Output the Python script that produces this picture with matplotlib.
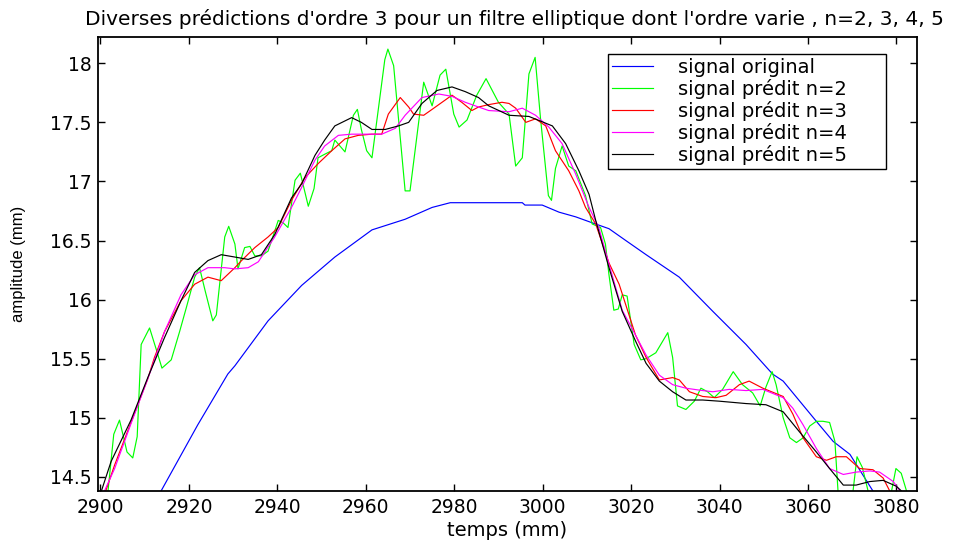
import matplotlib
matplotlib.use("Agg")
import matplotlib.pyplot as plt

# ---------------- data ----------------
blue_x = [2913.7, 2922, 2928.8, 2930.4, 2937.9, 2945.5, 2953, 2961.4, 2968.9, 2975, 2979.1,
          2995.4, 2996, 2999.9, 3003.7, 3007.5, 3011.2, 3015, 3018.8, 3023.4, 3030.9, 3038.5,
          3046, 3052, 3054.4, 3061.9, 3065.7, 3069.5, 3074.7]
blue_y = [14.38, 14.94, 15.37, 15.44, 15.82, 16.12, 16.36, 16.59, 16.68, 16.78, 16.82,
          16.82, 16.80, 16.80, 16.74, 16.70, 16.65, 16.60, 16.50, 16.38, 16.19, 15.90,
          15.62, 15.37, 15.31, 14.97, 14.80, 14.69, 14.38]

green_x = [2901.7, 2903, 2904.3, 2906, 2907.3, 2908.3, 2909.2, 2911.1, 2912.6, 2913.9, 2916,
           2917.9, 2919.4, 2921.3, 2922.4, 2923.7, 2925.4, 2926.2, 2928.1, 2929, 2930.4,
           2931.1, 2932.6, 2933.8, 2934.9, 2936.4, 2937.9, 2940.2, 2941.3, 2942.4, 2944,
           2945.2, 2947, 2948.3, 2949.2, 2950.7, 2952.3, 2953, 2955.3, 2956.4, 2957.2,
           2958.1, 2959, 2960.2, 2961.4, 2964.3, 2965, 2966.3, 2968.9, 2970, 2973.1, 2975,
           2976.8, 2978.1, 2979.9, 2981.1, 2982.9, 2985.1, 2987.2, 2990, 2992.4, 2993.9,
           2995.4, 2996.9, 2998.3, 2999.5, 3001.3, 3002, 3002.9, 3004.4, 3005.9, 3007.5,
           3009.7, 3011.2, 3013.1, 3014.2, 3015, 3016.1, 3017.1, 3018, 3019.1, 3020.7,
           3022.2, 3023.4, 3025.6, 3028.3, 3029.4, 3030.5, 3032.4, 3034.3, 3035.8, 3037.3,
           3038.8, 3040.7, 3043.1, 3045.2, 3047.5, 3049.2, 3050.5, 3051.9, 3052.8, 3054.4,
           3055.9, 3057.4, 3058.9, 3060.4, 3061.9, 3063.4, 3064.9, 3066.1, 3066.8, 3068.5,
           3070.2, 3071.1, 3072.3, 3073.6, 3075.5, 3078.5, 3079.9, 3081.1, 3082.3]
green_y = [14.38, 14.86, 14.98, 14.71, 14.66, 14.84, 15.62, 15.76, 15.58, 15.42, 15.49,
           15.73, 15.93, 16.19, 16.27, 16.07, 15.82, 15.87, 16.53, 16.62, 16.47,
           16.26, 16.44, 16.45, 16.37, 16.37, 16.41, 16.67, 16.65, 16.61, 17.01,
           17.07, 16.79, 16.94, 17.20, 17.23, 17.26, 17.35, 17.25, 17.43, 17.56,
           17.61, 17.44, 17.26, 17.20, 18.03, 18.12, 17.98, 16.92, 16.92, 17.84, 17.64,
           17.90, 17.95, 17.57, 17.46, 17.52, 17.73, 17.87, 17.67, 17.57, 17.13,
           17.20, 17.91, 18.05, 17.54, 16.88, 16.84, 17.11, 17.30, 17.13, 17.09,
           16.88, 16.64, 16.61, 16.47, 16.21, 15.91, 15.92, 16.04, 16.03, 15.62,
           15.49, 15.50, 15.55, 15.72, 15.51, 15.10, 15.07, 15.14, 15.25, 15.22,
           15.17, 15.24, 15.39, 15.28, 15.21, 15.10, 15.26, 15.39, 15.28, 15.00,
           14.83, 14.79, 14.83, 14.93, 14.97, 14.97, 14.96, 14.80, 14.38, 14.20,
           14.38, 14.67, 14.58, 14.38, 14.20, 14.30, 14.57, 14.53, 14.38]

red_x = [2901.0, 2903.2, 2906.9, 2910.7, 2912.2, 2914.5, 2918.2, 2921.3, 2924.3, 2927.3,
         2930.4, 2931.9, 2934.9, 2937.9, 2940.2, 2943.2, 2946.2, 2949.2, 2952.3, 2955.3,
         2958.3, 2961.4, 2963.6, 2965.1, 2967.8, 2969.7, 2970.8, 2973.1, 2975, 2976.5,
         2979.5, 2981.7, 2984, 2985.5, 2987.8, 2990.8, 2992.4, 2993.9, 2996.2, 2998.4,
         3000.7, 3002.9, 3005.9, 3008.2, 3009.7, 3012, 3015, 3017.3, 3021, 3023.4,
         3026.4, 3029.4, 3030.9, 3033.2, 3036.2, 3039.2, 3041.5, 3044.5, 3046.7, 3049.8,
         3054.4, 3056.6, 3058.9, 3061.9, 3064.2, 3066.4, 3068.7, 3071.7, 3074.7, 3077, 3078.5]
red_y = [14.36, 14.60, 14.96, 15.33, 15.51, 15.73, 15.99, 16.13, 16.19, 16.16,
         16.27, 16.33, 16.44, 16.53, 16.61, 16.84, 17.03, 17.15, 17.26, 17.36,
         17.39, 17.40, 17.40, 17.57, 17.71, 17.63, 17.57, 17.56, 17.61, 17.65,
         17.73, 17.67, 17.60, 17.63, 17.65, 17.67, 17.66, 17.62, 17.50, 17.53,
         17.47, 17.26, 17.09, 16.92, 16.78, 16.64, 16.31, 16.13, 15.70, 15.51,
         15.32, 15.34, 15.32, 15.22, 15.18, 15.17, 15.19, 15.28, 15.31, 15.25,
         15.18, 15.03, 14.83, 14.67, 14.64, 14.67, 14.67, 14.57, 14.56, 14.49, 14.38]

magenta_x = [2900.3, 2903.2, 2906.9, 2910.7, 2914.5, 2918.2, 2921.3, 2924.3, 2928.1, 2930.4,
             2933.4, 2935.7, 2939.4, 2943.2, 2945.5, 2948.5, 2950.7, 2953.8, 2956.8, 2959.8,
             2961.4, 2963.6, 2966.7, 2968.9, 2972.7, 2976.5, 2979.5, 2982.5, 2985.5, 2987.8,
             2992.4, 2995.4, 2998.4, 3001.4, 3004.4, 3007.5, 3010.5, 3012.7, 3015, 3018,
             3021, 3023.4, 3026.4, 3029.4, 3032.4, 3036.2, 3038.5, 3042.2, 3046, 3049.8,
             3054.4, 3056.6, 3058.9, 3061.9, 3064.9, 3068, 3070.9, 3074, 3076.2, 3079.3, 3080.8]
magenta_y = [14.33, 14.57, 14.95, 15.33, 15.73, 16.04, 16.21, 16.27, 16.27, 16.26,
             16.27, 16.32, 16.53, 16.78, 16.95, 17.18, 17.30, 17.39, 17.40, 17.40,
             17.40, 17.40, 17.45, 17.56, 17.71, 17.74, 17.72, 17.67, 17.63, 17.60,
             17.59, 17.62, 17.56, 17.46, 17.32, 17.06, 16.78, 16.61, 16.30, 15.91,
             15.70, 15.53, 15.36, 15.28, 15.25, 15.23, 15.22, 15.24, 15.23, 15.24,
             15.17, 15.08, 14.94, 14.74, 14.57, 14.52, 14.54, 14.55, 14.54, 14.46, 14.38]

black_x = [2899.5, 2902.4, 2906.9, 2910.7, 2914.5, 2918.2, 2921.3, 2924.3, 2927.3, 2930.4,
           2933.4, 2936.4, 2939.4, 2943.2, 2945.5, 2948.5, 2950.7, 2953, 2956.8, 2959,
           2961.4, 2964.4, 2967.4, 2969.7, 2972.7, 2976.1, 2979.5, 2982.5, 2985.5, 2987.8,
           2992.4, 2996.9, 3002.2, 3005.2, 3008.2, 3010.5, 3012, 3015, 3018, 3021,
           3023.4, 3026.4, 3029.4, 3032.4, 3036.2, 3040, 3046, 3050.5, 3054.4, 3058.1,
           3061.9, 3064.9, 3068, 3070.9, 3074, 3077, 3080, 3082]
black_y = [14.30, 14.63, 14.98, 15.34, 15.68, 15.99, 16.23, 16.33, 16.38, 16.36,
           16.34, 16.38, 16.55, 16.86, 16.98, 17.22, 17.35, 17.47, 17.54, 17.50,
           17.44, 17.44, 17.47, 17.50, 17.66, 17.77, 17.80, 17.76, 17.71, 17.64,
           17.56, 17.55, 17.47, 17.32, 17.09, 16.89, 16.67, 16.27, 15.90, 15.65,
           15.46, 15.31, 15.22, 15.15, 15.15, 15.14, 15.12, 15.11, 15.05, 14.88,
           14.71, 14.57, 14.43, 14.43, 14.46, 14.47, 14.42, 14.35]

labels = ["signal original", "signal prédit n=2", "signal prédit n=3",
          "signal prédit n=4", "signal prédit n=5"]
x_ticks = [2900, 2920, 2940, 2960, 2980, 3000, 3020, 3040, 3060, 3080]
y_ticks = [14.5, 15, 15.5, 16, 16.5, 17, 17.5, 18]
y_ticklabels = ["14.5", "15", "15.5", "16", "16.5", "17", "17.5", "18"]
title = "Diverses prédictions d'ordre 3 pour un filtre elliptique dont l'ordre varie , n=2, 3, 4, 5"

# ---------------- figure ----------------
plt.rcParams['font.family'] = ['DejaVu Sans']
fig = plt.figure(figsize=(9.56, 5.42), dpi=100)
ax = fig.add_axes([0.1028, 0.0941, 0.8561, 0.8371])

series = [(blue_x, blue_y, '#0000ff'), (green_x, green_y, '#00ff00'),
          (red_x, red_y, '#ff0000'), (magenta_x, magenta_y, '#ff00ff'),
          (black_x, black_y, '#000000')]
for (xs, ys, c), lab in zip(series, labels):
    ax.plot(xs, ys, color=c, lw=0.85, label=lab)

ax.set_xlim(2899.5, 3084.6)
ax.set_ylim(14.38, 18.22)
ax.set_xticks(x_ticks)
ax.set_xticklabels([str(v) for v in x_ticks])
ax.set_yticks(y_ticks)
ax.set_yticklabels(y_ticklabels)
ax.tick_params(direction='in', length=5, width=1, top=True, right=True,
               labelsize=13.5, pad=5)
for s in ax.spines.values():
    s.set_linewidth(1.3)

ax.set_title(title, fontsize=14.5, pad=9, x=0.509)
ax.set_xlabel("temps (mm)", fontsize=14, labelpad=3)
ax.set_ylabel("amplitude (mm)", fontsize=12, family=['Liberation Sans', 'DejaVu Sans'],
              labelpad=17)

leg = ax.legend(loc='upper left', bbox_to_anchor=(0.623, 0.715, 0.3395, 0.248),
                mode='expand', borderaxespad=0,
                fontsize=14, fancybox=False, framealpha=1, edgecolor='black',
                handlelength=2.1, handletextpad=1.3, labelspacing=0.1,
                borderpad=0.2)
leg.get_frame().set_linewidth(1.0)

fig.savefig("out.png", dpi=100)
